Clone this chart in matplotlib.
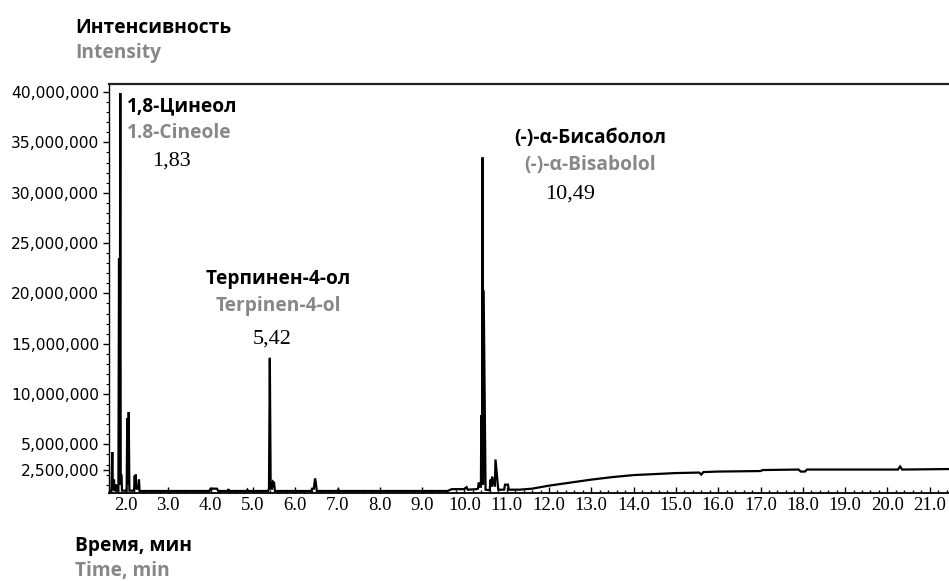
import numpy as np
import matplotlib
matplotlib.use("Agg")
import matplotlib.pyplot as plt
from matplotlib.ticker import MultipleLocator, FixedLocator

W, H = 949, 581

# ---------------- data ----------------
time_min = [1.60, 1.655, 1.676, 1.69, 1.71, 1.716, 1.725, 1.755, 1.764, 1.775,
            1.82, 1.835, 1.85, 1.865, 1.875, 1.88, 1.895, 1.905,
            2.015, 2.03, 2.045, 2.064, 2.08,
            2.19, 2.206, 2.215, 2.23, 2.245, 2.29, 2.307, 2.32,
            3.97, 4.0, 4.15, 4.18, 4.40, 4.42, 4.44, 4.85, 4.87, 4.89,
            5.36, 5.38, 5.40, 5.42, 5.45, 5.475, 5.50, 5.52,
            6.38, 6.40, 6.44, 6.47, 6.49, 6.51, 7.00, 7.02, 7.04,
            9.60, 9.70, 10.00, 10.05, 10.08, 10.28, 10.32, 10.34, 10.37,
            10.39, 10.40, 10.416, 10.43, 10.44, 10.455, 10.50, 10.58,
            10.60, 10.615, 10.64, 10.655, 10.72, 10.735, 10.80,
            10.94, 10.96, 11.03, 11.05, 11.30, 11.60, 12.00, 12.50, 13.00,
            13.50, 14.00, 14.50, 15.00, 15.55, 15.60, 15.65, 16.00, 17.00,
            17.05, 17.90, 17.95, 18.05, 18.10, 20.25, 20.30, 20.35, 21.50]
intensity_mil = [0.37, 0.37, 4.24, 0.6, 0.5, 1.5, 0.45, 0.45, 1.0, 0.4,
                 0.4, 23.5, 1.0, 39.9, 1.9, 1.9, 1.9, 0.4,
                 0.4, 7.6, 1.0, 8.2, 0.4,
                 0.4, 1.9, 1.2, 2.0, 0.6, 0.6, 1.5, 0.37,
                 0.37, 0.6, 0.6, 0.37, 0.37, 0.55, 0.37, 0.37, 0.5, 0.37,
                 0.37, 0.6, 13.6, 0.6, 0.6, 1.3, 1.2, 0.37,
                 0.37, 0.6, 0.6, 1.6, 1.1, 0.37, 0.37, 0.5, 0.37,
                 0.37, 0.55, 0.55, 0.75, 0.5, 0.55, 0.6, 1.2, 0.8,
                 0.8, 7.9, 1.0, 33.5, 1.0, 20.3, 0.5, 0.45,
                 0.45, 1.5, 0.8, 1.8, 0.8, 3.5, 0.5,
                 0.5, 1.0, 1.0, 0.5, 0.5, 0.6, 0.9, 1.2, 1.5,
                 1.75, 1.95, 2.05, 2.15, 2.2, 2.0, 2.25, 2.3, 2.35,
                 2.45, 2.5, 2.3, 2.3, 2.5, 2.5, 2.8, 2.5, 2.55]

x_ticks = [2.0, 3.0, 4.0, 5.0, 6.0, 7.0, 8.0, 9.0, 10.0, 11.0, 12.0, 13.0,
           14.0, 15.0, 16.0, 17.0, 18.0, 19.0, 20.0, 21.0]
x_tick_labels = ["2.0", "3.0", "4.0", "5.0", "6.0", "7.0", "8.0", "9.0", "10.0",
                 "11.0", "12.0", "13.0", "14.0", "15.0", "16.0", "17.0", "18.0",
                 "19.0", "20.0", "21.0"]
y_ticks = [2_500_000, 5_000_000, 10_000_000, 15_000_000, 20_000_000,
           25_000_000, 30_000_000, 35_000_000, 40_000_000]
y_tick_labels = ["2,500,000", "5,000,000", "10,000,000", "15,000,000",
                 "20,000,000", "25,000,000", "30,000,000", "35,000,000",
                 "40,000,000"]

peak_names_ru = ["1,8-Цинеол", "Терпинен-4-ол", "(-)-α-Бисаболол"]
peak_names_en = ["1.8-Cineole", "Terpinen-4-ol", "(-)-α-Bisabolol"]
peak_rt_text = ["1,83", "5,42", "10,49"]

y_title_ru, y_title_en = "Интенсивность", "Intensity"
x_title_ru, x_title_en = "Время, мин", "Time, min"

# ---------------- figure ----------------
GRAY = "#878787"
SANS = ["Open Sans", "DejaVu Sans"]
SERIF = ["Liberation Serif", "DejaVu Serif"]

fig = plt.figure(figsize=(W / 100, H / 100), dpi=100)
left_px, right_px, top_px, bot_px = 109, 949, 84, 493
ax = fig.add_axes([left_px / W, 1 - bot_px / H,
                   (right_px - left_px) / W, (bot_px - top_px) / H])

intensity = np.array(intensity_mil) * 1e6
ax.plot(time_min, intensity, color="black", lw=1.6, solid_joinstyle="miter")

ax.set_xlim(1.598, 21.456)
ax.set_ylim(0.17e6, 40.8e6)

ax.xaxis.set_major_locator(FixedLocator(x_ticks))
ax.set_xticklabels(x_tick_labels, family=SERIF, fontsize=13.5)
ax.xaxis.set_minor_locator(MultipleLocator(0.2))
ax.yaxis.set_major_locator(FixedLocator(y_ticks))
ax.set_yticklabels(y_tick_labels, family=["DejaVu Sans"], fontsize=11.2)
ax.yaxis.set_minor_locator(MultipleLocator(1_000_000))

ax.tick_params(axis="x", which="major", direction="in", length=4, width=1, pad=3)
ax.tick_params(axis="x", which="minor", direction="in", length=2.5, width=1)
ax.tick_params(axis="y", which="major", direction="out", length=4, width=1, pad=3)
ax.tick_params(axis="y", which="minor", direction="out", length=2, width=0.8)

ax.spines["right"].set_visible(False)
ax.spines["top"].set_linewidth(1.6)
ax.spines["top"].set_color("#222222")
ax.spines["left"].set_linewidth(1.0)
ax.spines["bottom"].set_linewidth(1.3)


def ftext(x, y, s, **kw):
    fig.text(x / W, 1 - y / H, s, va="baseline", **kw)


bold = dict(family=SANS, fontweight="bold")
FS = 13.8

ftext(75, 33, y_title_ru, color="black", fontsize=FS, **bold)
ftext(75, 58, y_title_en, color=GRAY, fontsize=FS, **bold)
ftext(75, 551, x_title_ru, color="black", fontsize=FS, **bold)
ftext(75, 576, x_title_en, color=GRAY, fontsize=FS, **bold)

name_pos = [(127, 111, 138, 152, 166, "left"),
            (278, 284, 311, 272, 344, "center"),
            (590, 143, 170, 570, 199, "center")]
for (xc, y_ru, y_en, xr, y_rt, ha), ru, en, rt in zip(name_pos, peak_names_ru,
                                                     peak_names_en, peak_rt_text):
    ftext(xc, y_ru, ru, color="black", fontsize=FS, ha=ha, **bold)
    ftext(xc, y_en, en, color=GRAY, fontsize=FS, ha=ha, **bold)
    ftext(xr, y_rt, rt, color="black", fontsize=16, ha=ha, family=SERIF)

fig.savefig("out.png", dpi=100)
